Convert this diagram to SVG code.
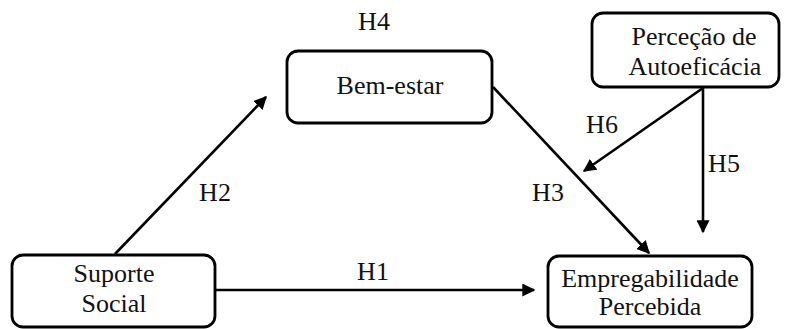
<svg xmlns="http://www.w3.org/2000/svg" width="787" height="329" viewBox="0 0 787 329">
<defs>
<style>
.box{fill:#fff;stroke:#000;stroke-width:2.8}
.t{font-family:'Liberation Serif','Times New Roman','DejaVu Serif',serif;font-size:26px;fill:#111;text-anchor:middle}
.c{stroke:#000;stroke-width:2.6;fill:none;marker-end:url(#ah)}
</style>
<marker id="ah" viewBox="0 0 10 10" refX="9" refY="5" markerWidth="5" markerHeight="5" orient="auto" markerUnits="strokeWidth">
<path d="M0,0 L10,5 L0,10 z" fill="#000"/>
</marker>
</defs>
<rect width="787" height="329" fill="#fff"/>
<g id="connectors">
<line class="c" x1="115" y1="254" x2="266" y2="97"/>
<line class="c" x1="493" y1="87" x2="649" y2="253"/>
<line class="c" x1="215" y1="290" x2="534" y2="290"/>
<line class="c" x1="703" y1="88" x2="703" y2="232"/>
<line class="c" x1="703" y1="88" x2="584" y2="171"/>
<text class="t" x="374" y="30" font-family="Liberation Serif, serif">H4</text>
<text class="t" x="215" y="201" font-family="Liberation Serif, serif">H2</text>
<text class="t" x="548" y="201" font-family="Liberation Serif, serif">H3</text>
<text class="t" x="373" y="280" font-family="Liberation Serif, serif">H1</text>
<text class="t" x="602" y="133" font-family="Liberation Serif, serif">H6</text>
<text class="t" x="724" y="172" font-family="Liberation Serif, serif">H5</text>
</g>
<g id="suporte">
<rect class="box" x="12" y="255" width="203" height="72" rx="11"/>
<text class="t" x="114" y="282" font-family="Liberation Serif, serif">Suporte</text>
<text class="t" x="114" y="312" font-family="Liberation Serif, serif">Social</text>
</g>
<g id="bemestar">
<rect class="box" x="287" y="51" width="205" height="72" rx="11"/>
<text class="t" x="390" y="94" font-family="Liberation Serif, serif">Bem-estar</text>
</g>
<g id="autoeficacia">
<rect class="box" x="592" y="13" width="187" height="74" rx="11"/>
<text class="t" x="694" y="45" font-family="Liberation Serif, serif">Perceção de</text>
<text class="t" x="695" y="75" font-family="Liberation Serif, serif">Autoeficácia</text>
</g>
<g id="empregabilidade">
<rect class="box" x="548" y="256" width="204" height="71" rx="11"/>
<text class="t" x="650" y="287" font-family="Liberation Serif, serif">Empregabilidade</text>
<text class="t" x="650" y="315" font-family="Liberation Serif, serif">Percebida</text>
</g>
</svg>
